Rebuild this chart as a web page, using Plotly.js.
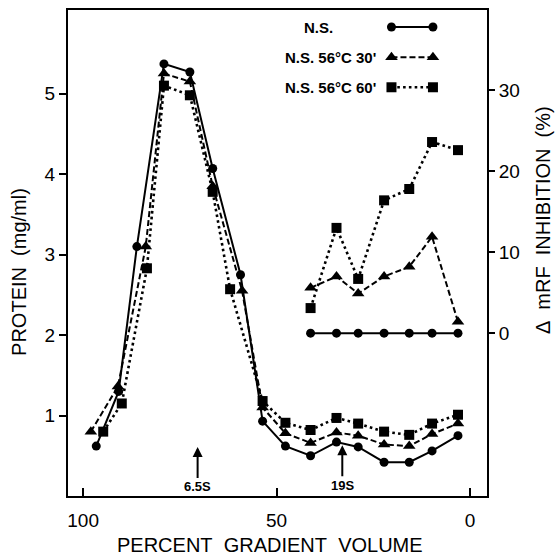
<!DOCTYPE html>
<html>
<head>
<meta charset="utf-8">
<script src="https://cdn.plot.ly/plotly-3.0.1.min.js"></script>
<style>html,body{margin:0;padding:0;background:#fff;}#chart{width:556px;height:558px;}</style>
</head>
<body>
<div id="chart"></div>
<script>
// ---- data ----
const pctNS     = [96.6, 90.8, 86.1, 79.1, 72.4, 66.5, 59.3, 53.6, 47.7, 41.2, 34.5, 28.9, 22.2, 15.7, 9.8, 3.1];
const proteinNS = [0.62, 1.30, 3.10, 5.37, 5.27, 4.07, 2.75, 0.93, 0.62, 0.50, 0.67, 0.61, 0.42, 0.42, 0.56, 0.75];
const pct30     = [98.0, 91.0, 83.8, 79.1, 72.4, 66.5, 58.9, 53.6, 47.7, 41.2, 34.5, 28.9, 22.2, 15.7, 9.8, 3.1];
const protein30 = [0.80, 1.36, 3.10, 5.25, 5.15, 3.85, 2.55, 1.10, 0.78, 0.66, 0.79, 0.75, 0.64, 0.62, 0.77, 0.90];
const pct60     = [94.8, 90.0, 83.5, 79.1, 72.4, 66.5, 62.0, 53.6, 47.7, 41.2, 34.5, 28.9, 22.2, 15.7, 9.8, 3.1];
const protein60 = [0.80, 1.15, 2.83, 5.10, 4.98, 3.78, 2.57, 1.18, 0.91, 0.82, 0.97, 0.90, 0.80, 0.76, 0.90, 1.01];

const pctInhib = [41.2, 34.5, 28.9, 22.2, 15.7, 9.8, 3.1];
const inhibNS  = [0, 0, 0, 0, 0, 0, 0];
const inhib30  = [5.6, 7.0, 4.9, 7.0, 8.2, 11.9, 1.4];
const inhib60  = [3.1, 13.0, 6.7, 16.4, 17.8, 23.6, 22.6];

const seriesNames = ['N.S.', 'N.S. 56\u00B0C 30\'', 'N.S. 56\u00B0C 60\''];
const xTicks = [100, 50, 0];
const yTicks = [1, 2, 3, 4, 5];
const y2Ticks = [0, 10, 20, 30];
const markers = [
  {label: '6.5S', pct: 70.4, protein: 0.61},
  {label: '19S',  pct: 33.0, protein: 0.63}
];

// ---- styles ----
const K = '#000';
const styles = [
  {line: {color: K, width: 2, dash: 'solid'}, marker: {symbol: 'circle', size: 9, color: K}},
  {line: {color: K, width: 2, dash: '6px,3px'}, marker: {symbol: 'triangle-up', size: 11, color: K}},
  {line: {color: K, width: 2.6, dash: '2.6px,3.2px'}, marker: {symbol: 'square', size: 10, color: K}}
];
const FONT = 'Liberation Sans, Arial, sans-serif';

const proteinX = [pctNS, pct30, pct60];
const proteinY = [proteinNS, protein30, protein60];
const inhibY = [inhibNS, inhib30, inhib60];

const traces = [];
for (let i = 0; i < 3; i++) {
  traces.push({x: proteinX[i], y: proteinY[i], mode: 'lines+markers', line: styles[i].line,
    marker: styles[i].marker, xaxis: 'x', yaxis: 'y', showlegend: false, hoverinfo: 'skip'});
  traces.push({x: pctInhib, y: inhibY[i], mode: 'lines+markers', line: styles[i].line,
    marker: styles[i].marker, xaxis: 'x', yaxis: 'y2', showlegend: false, hoverinfo: 'skip'});
}
// custom legend (symbol to the right of text) on a hidden paper-like axis pair
const legRows = [0.965, 0.903, 0.841];
const legX = [0.772, 0.871];
const legTextX = [0.558, 0.513, 0.513];
const annotations = [];
for (let i = 0; i < 3; i++) {
  traces.push({x: legX, y: [legRows[i], legRows[i]], mode: 'lines+markers', line: styles[i].line,
    marker: styles[i].marker, xaxis: 'x3', yaxis: 'y3', showlegend: false, hoverinfo: 'skip'});
  annotations.push({xref: 'paper', yref: 'paper', x: legTextX[i], y: legRows[i], xanchor: 'left', yanchor: 'middle',
    text: '<b>' + seriesNames[i] + '</b>', showarrow: false, font: {family: FONT, size: 15, color: K}});
}
markers.forEach(m => annotations.push({xref: 'x', yref: 'y', x: m.pct, y: m.protein, text: '<b>' + m.label + '</b>',
  showarrow: true, arrowhead: 2, arrowsize: 1, arrowwidth: 2, arrowcolor: K, ax: 0, ay: 40,
  font: {family: FONT, size: 13, color: K}}));

const sp = '\u00A0\u00A0';
annotations.push({xref: 'paper', yref: 'paper', x: 0.482, y: -0.101, xanchor: 'center', yanchor: 'middle',
  text: 'PERCENT' + sp + 'GRADIENT' + sp + 'VOLUME', showarrow: false, font: {family: FONT, size: 20, color: K}});
annotations.push({xref: 'paper', yref: 'paper', x: -0.117, y: 0.461, xanchor: 'center', yanchor: 'middle', textangle: -90,
  text: 'PROTEIN' + sp + '(mg/ml)', showarrow: false, font: {family: FONT, size: 20, color: K}});
annotations.push({xref: 'paper', yref: 'paper', x: 1.134, y: 0.568, xanchor: 'center', yanchor: 'middle', textangle: -90,
  text: '\u0394' + sp + 'mRF' + sp + 'INHIBITION' + sp + '(%)', showarrow: false, font: {family: FONT, size: 20, color: K}});

const layout = {
  width: 556, height: 558,
  margin: {l: 68, r: 69, t: 10, b: 62},
  paper_bgcolor: '#fff', plot_bgcolor: '#fff',
  font: {family: FONT, size: 18, color: K},
  showlegend: false,
  xaxis: {range: [103.9, -4.4], tickvals: xTicks, ticktext: xTicks.map(String), ticks: 'inside', ticklen: 8, tickwidth: 2,
    tickcolor: K, showline: true, linewidth: 2, linecolor: K, mirror: true, showgrid: false, zeroline: false,
    ticklabelstandoff: 6, tickfont: {family: FONT, size: 19, color: K}},
  yaxis: {range: [0, 6.04], tickvals: yTicks, ticks: 'outside', ticklen: 7, tickwidth: 2, tickcolor: K,
    showline: true, linewidth: 2, linecolor: K, showgrid: false, zeroline: false,
    tickfont: {family: FONT, size: 19, color: K}},
  yaxis2: {range: [-20.1, 39.9], overlaying: 'y', side: 'right', tickvals: y2Ticks, ticks: 'outside', ticklen: 6,
    tickwidth: 2, tickcolor: K, showline: true, linewidth: 2, linecolor: K, showgrid: false, zeroline: false,
    tickfont: {family: FONT, size: 19, color: K}},
  xaxis3: {range: [0, 1], overlaying: 'x', visible: false, anchor: 'y3'},
  yaxis3: {range: [0, 1], overlaying: 'y', visible: false, anchor: 'x3'},
  annotations: annotations
};
Plotly.newPlot('chart', traces, layout, {staticPlot: true, displayModeBar: false});
</script>
</body>
</html>
